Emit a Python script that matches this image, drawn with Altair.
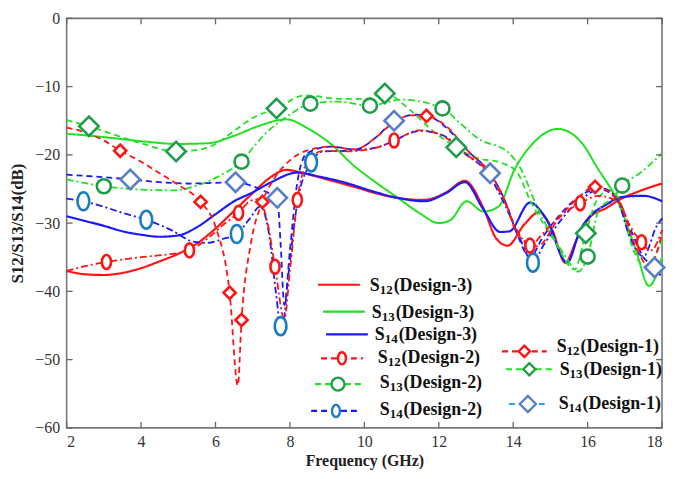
import altair as alt
import pandas as pd

# ---------------- data ----------------
# Design-3 (solid)
s12_d3_x = [2, 2.5, 3, 3.5, 4, 4.5, 5, 5.5, 6, 6.5, 7, 7.5, 7.9, 8.3, 9, 9.8, 10.5, 11, 11.6, 12.2, 12.7, 13.2, 13.55, 13.85, 14.3, 14.7, 15.05, 15.4, 15.7, 16.05, 16.5, 16.85, 17.4, 18]
s12_d3_y = [-37, -37.5, -37.6, -37.3, -36.6, -35.6, -34.5, -33, -30.8, -28.2, -25.6, -23.2, -22.2, -22.6, -23.6, -24.8, -25.9, -26.4, -26.6, -25.5, -23.8, -27.8, -32.3, -33.3, -30.2, -28.4, -31, -35.8, -32.5, -29.2, -27.8, -26.6, -25.3, -24.2]

s13_d3_x = [2, 3, 4, 5, 5.8, 6.5, 7.15, 7.9, 8.5, 9.1, 9.7, 10.4, 10.9, 11.5, 12.0, 12.3, 12.75, 13.2, 13.6, 14.05, 14.5, 15.2, 15.85, 16.25, 16.85, 17.3, 17.65, 18]
s13_d3_y = [-16.9, -17.4, -18.0, -18.4, -18.3, -17.2, -15.8, -14.8, -16.2, -18.4, -21.5, -24.4, -26.3, -28.6, -30, -29.6, -26.8, -28.3, -27.6, -22.0, -18.5, -16.2, -18.3, -21.8, -27.3, -34, -39.2, -35]

s14_d3_x = [2, 2.5, 3, 3.5, 4, 4.5, 5, 5.5, 6, 6.5, 7, 7.5, 8.2, 8.8, 9.5, 10.2, 10.9, 11.6, 12.2, 12.7, 13.2, 13.65, 13.9, 14.45, 14.9, 15.45, 15.8, 16.1, 16.5, 16.9, 17.5, 18]
s14_d3_y = [-29, -29.7, -30.4, -31.2, -31.7, -32, -31.8, -30.6, -28.7, -26.8, -25.5, -24, -22.6, -23.2, -24.1, -25.3, -26.3, -26.8, -25.6, -24, -28, -31.3, -31.2, -27, -29.5, -35.8, -31, -28.8, -27.3, -26.2, -26.0, -26.8]

# Design-2 (dash-dot, "O" markers)
s12_d2_x = [2, 2.5, 3.07, 4, 4.7, 5.3, 5.8, 6.2, 6.62, 6.95, 7.15, 7.4, 7.6, 7.85, 8.0, 8.2, 8.5, 8.9, 9.5, 10.36, 10.8, 11.5, 12.1, 12.7, 13.3, 13.75, 14.1, 14.45, 14.8, 15.3, 15.8, 16.3, 16.85, 17.1, 17.45, 17.7, 18]
s12_d2_y = [-37, -36.3, -35.7, -35, -34.6, -34, -32.2, -30.3, -28.5, -26.7, -26.5, -30, -36.4, -44, -37, -26.6, -20.8, -19.4, -19.5, -18.9, -17.9, -16.4, -17.2, -19.8, -22.4, -26.6, -31, -33.3, -31.5, -28.8, -27.1, -26, -27, -30, -32.8, -34, -31]

s13_d2_x = [2, 3.0, 4, 4.9, 5.5, 6.2, 6.7, 7.0, 7.34, 7.9, 8.55, 9.3, 10.15, 11.0, 12.1, 12.6, 13.03, 13.9, 14.2, 14.65, 15.35, 15.75, 16.0, 16.3, 16.7, 16.93, 17.4, 18]
s13_d2_y = [-23.6, -24.6, -25.1, -25.2, -24.5, -22.8, -21, -19, -16.9, -14.5, -12.5, -12.2, -12.8, -11.9, -13.2, -15.5, -17.5, -19.8, -22, -27.7, -34.4, -37.1, -34.9, -28.1, -26.2, -24.5, -22.7, -19.8]

s14_d2_x = [2, 2.45, 3, 3.5, 4.14, 4.8, 5.4, 5.8, 6.2, 6.57, 6.9, 7.2, 7.45, 7.62, 7.78, 7.95, 8.2, 8.57, 8.9, 9.5, 10.36, 10.8, 11.5, 12.1, 12.7, 13.3, 13.75, 14.2, 14.53, 14.8, 15.35, 15.9, 16.4, 16.8, 17.1, 17.5, 17.85, 18]
s14_d2_y = [-26.4, -26.8, -27.6, -28.5, -29.5, -31, -32.7, -32.9, -32.3, -31.6, -29.5, -27.6, -32, -40, -46, -38, -27, -21.1, -19.5, -19.4, -18.9, -17.9, -16.5, -17.1, -19.8, -22.6, -27, -32.5, -35.8, -33.4, -29.1, -26.2, -24.9, -26.6, -31.5, -34.9, -30.5, -29.3]

# Design-1 (dashed, diamond markers)
s12_d1_x = [2, 2.5, 3, 3.44, 4, 4.5, 5, 5.6, 6.0, 6.38, 6.6, 6.7, 6.95, 7.26, 7.6, 8.0, 8.5, 9.1, 9.75, 10.3, 10.8, 11.3, 11.67, 12.2, 12.8, 13.38, 13.8, 14.1, 14.65, 15.2, 15.7, 16.2, 16.8, 17.3, 17.65, 18]
s12_d1_y = [-16, -16.7, -17.9, -19.4, -21.0, -22.7, -24.4, -26.9, -30.5, -40.2, -53.8, -44.2, -33, -26.9, -23.3, -20.8, -19.3, -18.8, -19.2, -17.5, -15.2, -14.2, -14.3, -15.8, -19.5, -22.7, -27, -31.5, -33.4, -29.5, -26.5, -24.7, -26.5, -33.5, -36.4, -31.5]

s13_d1_x = [2, 2.6, 3.2, 4, 4.94, 5.5, 6, 6.5, 7.0, 7.64, 8.4, 9.4, 10.0, 10.55, 11.2, 11.8, 12.47, 12.95, 13.75, 14.1, 14.45, 15.1, 15.65, 15.95, 16.25, 16.6, 16.85, 17.2, 17.55, 18]
s13_d1_y = [-14.9, -15.8, -16.9, -18.3, -19.5, -19.3, -18.4, -16.5, -14.6, -13.2, -11.3, -11.8, -11.8, -11.0, -13.3, -16.3, -18.9, -20.3, -21.3, -22.5, -26.6, -32.5, -36.8, -31.5, -26.6, -25.2, -26.6, -33.5, -36.4, -32.5]

s14_d1_x = [2, 2.8, 3.71, 4.5, 5.3, 6.0, 6.54, 7.0, 7.35, 7.66, 7.75, 7.85, 8.0, 8.2, 8.45, 9.1, 9.75, 10.3, 10.8, 11.4, 11.8, 12.3, 12.8, 13.38, 13.8, 14.1, 14.45, 14.8, 15.3, 15.8, 16.3, 16.85, 17.2, 17.5, 17.8, 18]
s14_d1_y = [-22.9, -23.2, -23.6, -24.0, -24.2, -24.1, -24.0, -24.6, -25.4, -26.3, -33, -42, -34, -24, -19.8, -18.8, -19.2, -17.5, -15, -14.1, -14.5, -16.5, -19.5, -22.7, -27, -31.5, -35, -32, -28.5, -26, -25, -27, -31.5, -35, -36.4, -38]

# marker positions
s12_d2_mx = [3.07, 5.3, 6.62, 7.6, 8.2, 10.8, 14.45, 15.8, 17.45]
s12_d2_my = [-35.7, -34, -28.5, -36.4, -26.6, -17.9, -33.3, -27.1, -32.8]
s13_d2_mx = [3.0, 6.7, 8.55, 10.15, 12.1, 16.0, 16.93]
s13_d2_my = [-24.6, -21, -12.5, -12.8, -13.2, -34.9, -24.5]
s14_d2_mx = [2.45, 4.14, 6.57, 7.75, 8.57, 14.53]
s14_d2_my = [-26.8, -29.5, -31.6, -45.1, -21.1, -35.8]
s12_d1_mx = [3.44, 5.6, 6.38, 6.7, 7.26, 11.67, 16.2]
s12_d1_my = [-19.4, -26.9, -40.2, -44.2, -26.9, -14.3, -24.7]
s13_d1_mx = [2.6, 4.94, 7.64, 10.55, 12.47, 15.95]
s13_d1_my = [-15.8, -19.5, -13.2, -11.0, -18.9, -31.5]
s14_d1_mx = [3.71, 6.54, 7.66, 10.8, 13.38, 17.8]
s14_d1_my = [-23.6, -24.0, -26.3, -15.0, -22.7, -36.5]

x_ticks = [2, 4, 6, 8, 10, 12, 14, 16, 18]
y_ticks = [-60, -50, -40, -30, -20, -10, 0]

legend_sub = ["12", "13", "14", "12", "13", "14", "12", "13", "14"]
legend_rest = ["(Design-3)", "(Design-3)", "(Design-3)",
               "(Design-2)", "(Design-2)", "(Design-2)",
               "(Design-1)", "(Design-1)", "(Design-1)"]

# ---------------- styling / layout ----------------
W, H = 599, 412
RED, GREEN, BLUE = "#ff1414", "#22e022", "#1a1aff"
SOLID, DASHDOT, DASHED = [1, 0], [7, 3, 2, 3], [6, 4]
ELLIPSE = ("M0,-1 C0.36,-1 0.65,-0.55 0.65,0 C0.65,0.55 0.36,1 0,1 "
           "C-0.36,1 -0.65,0.55 -0.65,0 C-0.65,-0.55 -0.36,-1 0,-1 Z")

xs = alt.Scale(domain=[2, 18], nice=False, zero=False)
ys = alt.Scale(domain=[-60, 0], nice=False, zero=False)
FONT = "Liberation Serif, Times New Roman, serif"
xaxis = alt.Axis(values=x_ticks, ticks=False, grid=False, domain=False,
                 labelFont=FONT, labelFontSize=16, labelColor="#333",
                 labelPadding=6, title="Frequency (GHz)", titleFont=FONT,
                 titleFontSize=16, titleFontWeight="bold", titleColor="#222",
                 titlePadding=3)
yaxis = alt.Axis(values=y_ticks, ticks=False, grid=False, domain=False,
                 labelFont=FONT, labelFontSize=16, labelColor="#333",
                 labelPadding=7, title="S12/S13/S14(dB)", titleFont=FONT,
                 titleFontSize=17, titleFontWeight="bold", titleColor="#222",
                 titlePadding=8)

def X(field="f"):
    return alt.X(f"{field}:Q", scale=xs, axis=xaxis)

def Y(field="v"):
    return alt.Y(f"{field}:Q", scale=ys, axis=yaxis)

series = [
    (s12_d3_x, s12_d3_y, RED, SOLID, 2.2),
    (s13_d3_x, s13_d3_y, GREEN, SOLID, 2.0),
    (s14_d3_x, s14_d3_y, BLUE, SOLID, 2.2),
    (s13_d2_x, s13_d2_y, GREEN, DASHDOT, 1.8),
    (s13_d1_x, s13_d1_y, GREEN, DASHED, 1.8),
    (s14_d2_x, s14_d2_y, BLUE, DASHDOT, 1.8),
    (s14_d1_x, s14_d1_y, BLUE, DASHED, 1.8),
    (s12_d2_x, s12_d2_y, RED, DASHDOT, 1.8),
    (s12_d1_x, s12_d1_y, RED, DASHED, 1.8),
]

layers = []
for sx, sy, col, dash, sw in series:
    df = pd.DataFrame({"f": sx, "v": sy})
    layers.append(alt.Chart(df).mark_line(interpolate="monotone", color=col,
                                          strokeDash=dash, strokeWidth=sw)
                  .encode(x=X(), y=Y()))

markers = [
    (s13_d1_mx, s13_d1_my, "diamond", 380, "#1f9e4a"),
    (s14_d1_mx, s14_d1_my, "diamond", 380, "#5a7fc6"),
    (s12_d1_mx, s12_d1_my, "diamond", 150, "#ff1414"),
    (s13_d2_mx, s13_d2_my, "circle", 200, "#1f9e4a"),
    (s14_d2_mx, s14_d2_my, ELLIPSE, 330, "#1a7cc4"),
    (s12_d2_mx, s12_d2_my, ELLIPSE, 200, "#ff1414"),
]
for mx, my, shp, sz, col in markers:
    df = pd.DataFrame({"f": mx, "v": my})
    layers.append(alt.Chart(df).mark_point(shape=shp, size=sz, filled=True,
                                           fill="white", stroke=col,
                                           strokeWidth=2.6, opacity=1)
                  .encode(x=X(), y=Y()))

# inward tick marks on all four sides
tx = pd.DataFrame({"f": x_ticks})
ty = pd.DataFrame({"v": y_ticks})
TCOL = "#666"
layers += [
    alt.Chart(tx).mark_rule(color=TCOL, strokeWidth=1.3).encode(x=X(), y=alt.value(H), y2=alt.value(H - 6)),
    alt.Chart(tx).mark_rule(color=TCOL, strokeWidth=1.3).encode(x=X(), y=alt.value(0), y2=alt.value(6)),
    alt.Chart(ty).mark_rule(color=TCOL, strokeWidth=1.3).encode(y=Y(), x=alt.value(0), x2=alt.value(6)),
    alt.Chart(ty).mark_rule(color=TCOL, strokeWidth=1.3).encode(y=Y(), x=alt.value(W), x2=alt.value(W - 6)),
]

# legend (pixel layout inside the plot area)
leg_line_x1 = [253, 258, 261, 256, 250, 246, 438, 442, 445]
leg_line_x2 = [295, 300, 303, 298, 296, 296, 483, 489, 483]
leg_y = [268, 295, 318, 342, 368, 395, 335, 353, 388]
leg_text_x = [305, 307, 310, 313, 315, 315, 493, 496, 495]
leg_text_y = [268, 295, 318, 341, 366, 393, 330, 353, 387]
leg_col = [RED, GREEN, BLUE, RED, GREEN, BLUE, RED, GREEN, "#2aa0ff"]
leg_dash = [SOLID, SOLID, SOLID, DASHED, DASHED, DASHED, DASHED, DASHED, DASHED]
leg_mk = [None, None, None,
          (ELLIPSE, 150, "#ff1414"), ("circle", 170, "#1f9e4a"), (ELLIPSE, 150, "#1a7cc4"),
          ("diamond", 130, "#ff1414"), ("diamond", 150, "#1f9e4a"), ("diamond", 260, "#5a7fc6")]

dummy = pd.DataFrame({"a": [0]})
LFONT = "Liberation Serif"
for i in range(len(legend_rest)):
    layers.append(alt.Chart(dummy).mark_rule(color=leg_col[i], strokeWidth=2.2,
                                             strokeDash=leg_dash[i])
                  .encode(x=alt.value(leg_line_x1[i]), x2=alt.value(leg_line_x2[i]),
                          y=alt.value(leg_y[i])))
    if leg_mk[i] is not None:
        shp, sz, col = leg_mk[i]
        layers.append(alt.Chart(dummy).mark_point(shape=shp, size=sz, filled=True,
                                                  fill="white", stroke=col,
                                                  strokeWidth=2.4, opacity=1)
                      .encode(x=alt.value((leg_line_x1[i] + leg_line_x2[i]) / 2),
                              y=alt.value(leg_y[i])))
    tx0, ty0 = leg_text_x[i], leg_text_y[i]
    layers.append(alt.Chart(dummy).mark_text(align="left", baseline="alphabetic",
                                             font=LFONT, fontSize=18, fontWeight="bold",
                                             color="#111")
                  .encode(x=alt.value(tx0), y=alt.value(ty0 + 6), text=alt.value("S")))
    layers.append(alt.Chart(dummy).mark_text(align="left", baseline="alphabetic",
                                             font=LFONT, fontSize=13, fontWeight="bold",
                                             color="#111")
                  .encode(x=alt.value(tx0 + 10), y=alt.value(ty0 + 9), text=alt.value(legend_sub[i])))
    layers.append(alt.Chart(dummy).mark_text(align="left", baseline="alphabetic",
                                             font=LFONT, fontSize=18, fontWeight="bold",
                                             color="#111")
                  .encode(x=alt.value(tx0 + 24), y=alt.value(ty0 + 6), text=alt.value(legend_rest[i])))

chart = alt.layer(*layers).properties(
    width=W, height=H,
    autosize=alt.AutoSizeParams(type="none"),
    padding={"left": 59, "top": 9, "right": 5, "bottom": 45},
    background="white",
).configure_view(stroke="#777", strokeWidth=1.6)

chart.save("out.html", embed_options={"renderer": "svg", "actions": False})
